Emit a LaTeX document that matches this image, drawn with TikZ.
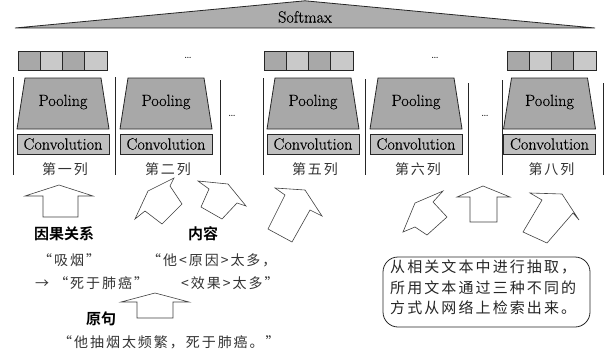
\documentclass[tikz,border=0pt]{standalone}
\usepackage{fontspec}
\newfontfamily\romanfont{Latin Modern Roman}[BoldFont={Latin Modern Roman}, BoldFeatures={FakeBold=0.5}]
\newfontfamily\cjk{Noto Sans CJK SC}[BoldFont={Noto Sans CJK SC Bold}]
\newfontfamily\cjksp{Noto Sans CJK SC}[LetterSpace=14]
\begin{document}
\begin{tikzpicture}[x=1pt,y=-1pt,
  outline/.style={draw=black!85, line width=0.8pt},
  latin/.style={font=\romanfont\bfseries\fontsize{16.2}{16.2}\selectfont},
  poolfill/.style={outline, fill=black!34},
  convbox/.style={outline, fill=black!25, minimum width=92pt, minimum height=20pt, inner sep=0pt, latin},
  celldark/.style={outline, fill=black!34},
  celllight/.style={outline, fill=black!21},
  sep/.style={draw=black!85, line width=0.9pt},
  collabel/.style={font=\cjksp\fontsize{14}{14}\selectfont, text=black!80, inner sep=0pt},
  hint/.style={font=\cjk\bfseries\fontsize{15}{15}\selectfont, inner sep=0pt},
  quote/.style={font=\cjksp\fontsize{14}{14}\selectfont, text=black!80, inner sep=0pt, anchor=west},
  blockarrow/.style={draw=black!75, line width=0.6pt, fill=white},
  dots/.style={font=\romanfont\fontsize{12}{12}\selectfont, inner sep=0pt}]
\useasboundingbox (0,0) rectangle (609,353);

% softmax layer
\draw[outline, fill=black!32] (15,28) -- (305,0.8) -- (595,28) -- cycle;
\node[latin] (softmax) at (305,17) {Softmax};

% pooled feature vectors
\foreach \x/\n in {18/a,264/b,507/c}{
  \path[celldark]  (\x,51) rectangle ++(22.25,19.5);
  \path[celllight] (\x+22.25,51) rectangle ++(22.25,19.5);
  \path[celldark]  (\x+44.5,51) rectangle ++(22.25,19.5);
  \path[celllight] (\x+66.75,51) rectangle ++(22.25,19.5);
}
\node[dots] (dotsA) at (188,58) {\dots};
\node[dots] (dotsB) at (435,58) {\dots};

% convolution / pooling columns
\foreach \c/\lab/\n in {63/第一列/1,166/第二列/2,313/第五列/5,416/第六列/6,549.5/第八列/8}{
  \draw[poolfill] (\c-38,78) -- (\c+38,78) -- (\c+46,129) -- (\c-46,129) -- cycle;
  \node[latin] (pool\n) at (\c,102) {Pooling};
  \node[convbox] (conv\n) at (\c,144) {Convolution};
  \node[collabel] (label\n) at (\c+2,169) {\lab};
}

% column separators
\foreach \x/\t in {13/77,115/77,220/80,263/78,365/79,468/83,502/80,603/83}{
  \draw[sep] (\x,\t) -- (\x,175);
}
\node[dots] (gapA) at (232,116) {\dots};
\node[dots] (gapB) at (485,116) {\dots};

% input arrows
\draw[blockarrow] (59,185) -- (93,196) -- (78,196) -- (78,217) -- (43,217) -- (43,196) -- (25,196) -- cycle;
\draw[blockarrow] (148,191) -- (174,178) -- (170,186) -- (182,204) -- (162,224) -- (145,211) -- (135,219) -- cycle;
\draw[blockarrow] (228,184) -- (246,206) -- (237,203) -- (222,219) -- (201,207) -- (209,189) -- (198,181) -- cycle;
\draw[blockarrow] (305,190) -- (322,216) -- (310,210) -- (292,242) -- (268,229) -- (285,195) -- (275,188) -- cycle;
\draw[blockarrow] (415,203) -- (443,191) -- (433,202) -- (447,217) -- (427,235) -- (415,227) -- (403,232) -- cycle;
\draw[blockarrow] (483,186) -- (510,197) -- (497,197) -- (497,222) -- (470,222) -- (470,197) -- (457,197) -- cycle;
\draw[blockarrow] (562,194) -- (579,220) -- (573,213) -- (547,243) -- (523,232) -- (542,200) -- (530,193) -- cycle;
\draw[blockarrow] (155,293) -- (189,302) -- (173,302) -- (173,318) -- (137,318) -- (137,302) -- (121,302) -- cycle;

% text inputs
\node[hint] (causal) at (64,234) {因果关系};
\node[hint] (content) at (203,234) {内容};
\node[hint] (origin) at (101,319) {原句};
\node[quote] (smoke) at (38,260) {“吸烟”};
\node[quote] (death) at (35,283) {→ “死于肺癌”};
\node[quote] (cause) at (147,260) {“他<原因>太多，};
\node[quote] (effect) at (181,283) {<效果>太多”};
\node[quote] (sentence) at (58,342) {“他抽烟太频繁，死于肺癌。”};

% note box
\draw[outline, rounded corners=15pt] (383,257) rectangle (590,327);
\node[font=\cjksp\fontsize{15}{15}\selectfont, align=left, inner sep=0pt, text=black!85, anchor=north west] (note) at (390,260)
  {从相关文本中进行抽取，\\[5.5pt]所用文本通过三种不同的\\[5.5pt]方式从网络上检索出来。};
\end{tikzpicture}
\end{document}
